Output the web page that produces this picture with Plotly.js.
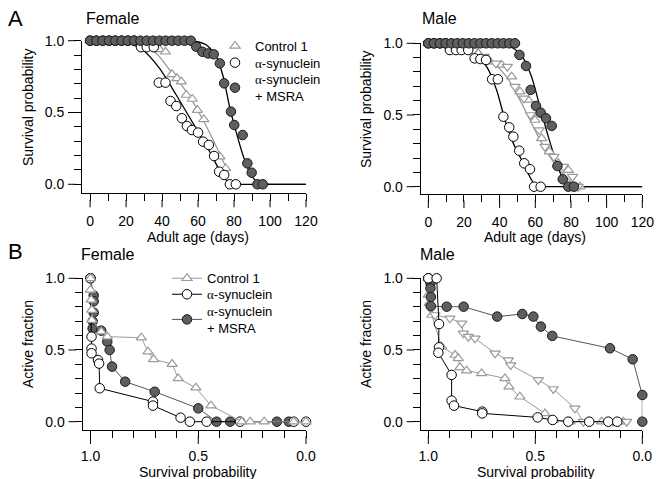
<!DOCTYPE html>
<html>
<head>
<meta charset="utf-8">
<script src="https://cdn.plot.ly/plotly-3.0.1.min.js"></script>
<style>html,body{margin:0;padding:0;background:#fff;}#chart{width:656px;height:479px;}</style>
</head>
<body>
<div id="chart"></div>
<script>
// ---------- Data: A, Female (survival vs adult age, days) ----------
const afCtrlDays = [0,3.5,7,10.5,14,17.5,21,24.5,28,31.5,35,38.6,41.9,45.5,48.3,50.7,53.5,56.8,59.6,63.2,72.1,75.3];
const afCtrlSurv = [1,1,1,1,1,1,1,1,1,1,1,0.94,0.923,0.766,0.738,0.715,0.622,0.594,0.517,0.452,0.193,0.111];
const afSynDays = [0,3.5,7,10.5,14,17.5,21,24.5,28.3,31.5,35.4,38.2,41.9,44.7,47.9,51,53.8,56.6,60,62.8,66,68.9,71.7,74.5,77.7,81];
const afSynSurv = [1,1,1,1,1,1,1,1,0.955,0.955,0.955,0.708,0.708,0.58,0.545,0.46,0.406,0.378,0.36,0.297,0.274,0.197,0.088,0.065,0,0];
const afMsraDays = [0,3.5,7,10.5,14,17.5,21,24.5,28,31.5,35,38.5,42,45.5,49,52.5,56,59,62.4,65.6,68.7,72.1,74.5,78.3,80.1,84.8,87.4,89.8,93,96];
const afMsraSurv = [1,1,1,1,1,1,1,1,1,1,1,1,1,1,1,1,1,0.958,0.923,0.911,0.905,0.842,0.703,0.506,0.413,0.343,0.146,0.081,0,0];
const afCtrlFitX = [0,15,20,25.5,36.7,44.2,53.5,62.8,70.2,75.8];
const afCtrlFitY = [1,1,0.995,0.981,0.912,0.796,0.645,0.448,0.262,0.111];
const afSynFitX = [0,10,14,20,29.3,38.6,47.9,57.2,66.5,74,78.6,84,120];
const afSynFitY = [1,1,0.996,0.986,0.935,0.807,0.622,0.425,0.227,0.053,0.003,0,0];
const afMsraFitX = [0,45,52,57.2,64.7,70.2,74,77.7,81.4,85.2,88.9,92.6,96.3,105,120];
const afMsraFitY = [1,1,1,0.998,0.97,0.889,0.749,0.529,0.355,0.193,0.077,0.019,0.002,0,0];

// ---------- Data: A, Male ----------
const amCtrlUpDays = [0,3.2,6.5,9.7,13,16.2,19.4,22.7,28,34.6,41.1,46.7,51.4,56.1,59.8,63.6,67.9,72.9,78.5,85];
const amCtrlUpSurv = [1,1,1,1,1,1,1,1,0.93,0.872,0.849,0.767,0.663,0.605,0.465,0.337,0.244,0.163,0.116,0];
const amCtrlDnDays = [0,3.2,6.5,9.7,13,16.2,19.4,22.7,25.2,31.4,37.9,44.3,48.6,53.6,57.4,62.2,65.4,70.5,75.7,80.9,84];
const amCtrlDnSurv = [1,1,1,1,1,1,1,1,0.95,0.907,0.86,0.837,0.698,0.616,0.5,0.395,0.279,0.209,0.14,0.07,0];
const amSynDays = [0,3.2,6.5,9.7,12.1,15.5,18.7,22.4,26,29.2,32.4,35.8,39,42.1,45.4,47.7,51,53.8,57,59.3,63];
const amSynSurv = [1,1,1,1,0.953,0.953,0.953,0.953,0.895,0.89,0.884,0.749,0.749,0.488,0.414,0.349,0.251,0.163,0.122,0,0];
const amMsraDays = [0,3.2,6.5,9.7,13,16.2,19.4,22.7,25.9,29.2,32.4,35.6,38.9,42.1,45.4,48.6,51.1,54.8,57.4,60.4,63,66,69.2,72.4,75.4,78.5,81.7];
const amMsraSurv = [1,1,1,1,1,1,1,1,1,1,1,1,1,1,1,1,0.919,0.842,0.675,0.563,0.516,0.477,0.424,0.144,0.052,0,0];
const amCtrlFitX = [0,15,20,25.2,34.6,43.9,53.3,62.6,72,81.3,85];
const amCtrlFitY = [1,1,0.99,0.953,0.884,0.767,0.558,0.326,0.14,0.023,0];
const amSynFitX = [0,6,10,15.9,25.2,32.7,38.3,43,47.7,53.3,57.9,60.7,66,120];
const amSynFitY = [1,1,0.995,0.977,0.93,0.837,0.674,0.465,0.302,0.163,0.047,0.002,0,0];
const amMsraFitX = [0,30,35,40.2,47.7,53.3,57.9,62.6,67.3,72,75.7,79.4,85,120];
const amMsraFitY = [1,1,1,0.995,0.965,0.895,0.767,0.558,0.349,0.163,0.047,0.002,0,0];

// ---------- Data: B, Female (active fraction vs survival probability) ----------
const bfCtrlX = [1,1,0.997,0.994,0.994,0.95,0.922,0.764,0.733,0.707,0.621,0.593,0.511,0.441,0.298,0.259,0.194,0.057,0];
const bfCtrlY = [1,0.919,0.849,0.779,0.709,0.628,0.593,0.586,0.488,0.435,0.402,0.302,0.237,0.112,0,0,0,0,0];
const bfSynX = [1,0.995,0.995,0.995,0.965,0.96,0.957,0.71,0.71,0.582,0.539,0.461,0.306,0.057,0];
const bfSynY = [1,0.593,0.51,0.477,0.43,0.405,0.233,0.14,0.112,0.028,0,0,0,0,0];
const bfMsraX = [1,0.985,0.985,0.985,0.99,0.99,0.95,0.922,0.911,0.9,0.839,0.702,0.5,0.415,0.352,0.135,0.08];
const bfMsraY = [1,0.88,0.84,0.76,0.7,0.65,0.635,0.558,0.5,0.384,0.279,0.209,0.093,0,0,0,0];

// ---------- Data: B, Male ----------
const bmCtrlUpX = [1,1,0.995,0.984,0.938,0.875,0.86,0.852,0.821,0.751,0.642,0.623,0.572,0.455,0.416,0.338,0.19,0.089];
const bmCtrlUpY = [1,0.884,0.826,0.744,0.523,0.465,0.442,0.379,0.356,0.337,0.302,0.244,0.174,0.058,0.012,0,0,0];
const bmCtrlDnX = [1,0.995,0.969,0.899,0.844,0.836,0.813,0.782,0.688,0.626,0.615,0.486,0.416,0.315,0.276,0.136,0.073];
const bmCtrlDnY = [1,0.802,0.744,0.721,0.686,0.616,0.593,0.581,0.477,0.43,0.395,0.291,0.228,0.093,0,0,0];
const bmSynX = [1,0.961,0.95,0.95,0.953,0.891,0.891,0.88,0.748,0.748,0.489,0.419,0.346,0.248,0.159,0.117];
const bmSynY = [1,1,0.681,0.519,0.481,0.326,0.147,0.112,0.07,0.058,0.03,0.012,0,0,0,0];
const bmMsraX = [1,0.99,0.99,0.988,0.988,0.914,0.835,0.678,0.561,0.509,0.474,0.421,0.151,0.045,0,0];
const bmMsraY = [1,0.965,0.93,0.87,0.806,0.802,0.802,0.733,0.751,0.733,0.663,0.598,0.512,0.435,0.186,0];

// ---------- Tick values ----------
const ageMajor = [0,20,40,60,80,100,120];
const ageMinor = [10,30,50,70,90,110];
const fracMajor = [0,0.5,1];
const fracMinor = [0.1,0.2,0.3,0.4,0.6,0.7,0.8,0.9];

// ---------- Labels ----------
const nameCtrl = 'Control 1';
const alpha = '<span style="font-family:\'Liberation Serif\',serif">α</span>';
const nameSyn = alpha + '-synuclein';
const nameMsra = alpha + '-synuclein<br>+ MSRA';

// ---------- Styles ----------
const W = 656, H = 479;
const FONT = "'Liberation Sans', Arial, sans-serif";
const GRAY = '#9a9a9a', DARK = '#5f5f5f';
const px = v => v / W, py = v => 1 - v / H;
const mTri = sym => ({symbol: sym, size: 9, color: 'white', line: {color: GRAY, width: 1.2}});
const mOpen = {symbol: 'circle', size: 9.5, color: 'white', line: {color: '#000', width: 1}};
const mDark = {symbol: 'circle', size: 9.5, color: DARK, line: {color: '#1a1a1a', width: 1}};

function fit(x, y, xa, ya, color) {
  return {x, y, xaxis: xa, yaxis: ya, type: 'scatter', mode: 'lines', showlegend: false,
    line: {color, width: 1.3, shape: 'spline', smoothing: 0.7}, hoverinfo: 'skip'};
}
function pts(x, y, xa, ya, marker, opts) {
  return Object.assign({x, y, xaxis: xa, yaxis: ya, type: 'scatter', mode: 'markers', marker,
    cliponaxis: false, showlegend: false}, opts || {});
}
function conn(x, y, xa, ya, marker, lineColor, opts) {
  return Object.assign({x, y, xaxis: xa, yaxis: ya, type: 'scatter', mode: 'lines+markers', marker,
    line: {color: lineColor, width: 1}, cliponaxis: false, showlegend: false}, opts || {});
}

const data = [
  // A female
  fit(afCtrlFitX, afCtrlFitY, 'x', 'y', GRAY),
  fit(afSynFitX, afSynFitY, 'x', 'y', '#000'),
  fit(afMsraFitX, afMsraFitY, 'x', 'y', '#000'),
  pts(afCtrlDays, afCtrlSurv, 'x', 'y', mTri('triangle-up'), {name: nameCtrl, showlegend: true, legend: 'legend'}),
  pts(afSynDays, afSynSurv, 'x', 'y', mOpen, {name: nameSyn, showlegend: true, legend: 'legend3'}),
  pts(afMsraDays, afMsraSurv, 'x', 'y', mDark, {name: nameMsra, showlegend: true, legend: 'legend4'}),
  // A male
  fit(amCtrlFitX, amCtrlFitY, 'x2', 'y2', GRAY),
  fit(amSynFitX, amSynFitY, 'x2', 'y2', '#000'),
  fit(amMsraFitX, amMsraFitY, 'x2', 'y2', '#000'),
  pts(amCtrlUpDays, amCtrlUpSurv, 'x2', 'y2', mTri('triangle-up')),
  pts(amCtrlDnDays, amCtrlDnSurv, 'x2', 'y2', mTri('triangle-down')),
  pts(amSynDays, amSynSurv, 'x2', 'y2', mOpen),
  pts(amMsraDays, amMsraSurv, 'x2', 'y2', mDark),
  // B female
  conn(bfMsraX, bfMsraY, 'x3', 'y3', mDark, '#555', {name: nameMsra, showlegend: true, legend: 'legend6'}),
  conn(bfSynX, bfSynY, 'x3', 'y3', mOpen, '#000', {name: nameSyn, showlegend: true, legend: 'legend5'}),
  conn(bfCtrlX, bfCtrlY, 'x3', 'y3', mTri('triangle-up'), GRAY, {name: nameCtrl, showlegend: true, legend: 'legend2'}),
  // B male
  conn(bmCtrlUpX, bmCtrlUpY, 'x4', 'y4', mTri('triangle-up'), GRAY),
  conn(bmCtrlDnX, bmCtrlDnY, 'x4', 'y4', mTri('triangle-down'), GRAY),
  conn(bmMsraX, bmMsraY, 'x4', 'y4', mDark, '#555'),
  conn(bmSynX, bmSynY, 'x4', 'y4', mOpen, '#000')
];

// Axis ticks: every tick (major + minor) drawn natively at minor length; labels only on majors.
const MINOR = 7, MAJOR = 14;
const fmt1 = v => v.toFixed(1);
function tickSet(major, minor, fmt) {
  const vals = major.concat(minor).sort((a, b) => a - b);
  const text = vals.map(v => major.indexOf(v) >= 0 ? fmt(v) : '');
  return {vals, text};
}
const tickfont = {family: FONT, size: 14, color: '#000'};
function axis(domain, range, ticks, extra) {
  return Object.assign({
    domain, range, autorange: false, tickmode: 'array', tickvals: ticks.vals, ticktext: ticks.text,
    showline: true, linecolor: '#000', linewidth: 1,
    ticks: 'outside', ticklen: MINOR, tickwidth: 1, tickcolor: '#000', showgrid: false, zeroline: false,
    tickfont, fixedrange: true, ticklabelstandoff: MAJOR - MINOR
  }, extra || {});
}

// panel geometry (pixels): left axis line x, right end, top (value 1.0), bottom axis line y
const geo = {
  a1: {l: 82, r: 306, t: 40.7, b: 193.3, xr: [-4.5, 120], yr: [-0.0627, 1]},
  a2: {l: 420.7, r: 642.3, t: 43.3, b: 194, xr: [-4.26, 120], yr: [-0.051, 1]},
  b1: {l: 82.5, r: 306, t: 278.3, b: 430, xr: [1.037, 0], yr: [-0.058, 1]},
  b2: {l: 420.7, r: 642.3, t: 278.3, b: 430, xr: [1.0355, 0], yr: [-0.058, 1]}
};
const dx = g => [px(g.l), px(g.r)];
const dy = g => [py(g.b), py(g.t)];

// extension of the major ticks from MINOR to MAJOR length (tick decorations, not data)
function majorExt(g, xMaj, yMaj) {
  const out = [];
  const xPos = v => g.l + (v - g.xr[0]) / (g.xr[1] - g.xr[0]) * (g.r - g.l);
  const yPos = v => g.b - (v - g.yr[0]) / (g.yr[1] - g.yr[0]) * (g.b - g.t);
  xMaj.forEach(v => out.push({type: 'line', xref: 'paper', yref: 'paper',
    x0: px(xPos(v)), x1: px(xPos(v)), y0: py(g.b + MINOR - 0.5), y1: py(g.b + MAJOR),
    line: {color: '#000', width: 1}}));
  yMaj.forEach(v => out.push({type: 'line', xref: 'paper', yref: 'paper',
    y0: py(yPos(v)), y1: py(yPos(v)), x0: px(g.l - MINOR + 0.5), x1: px(g.l - MAJOR),
    line: {color: '#000', width: 1}}));
  return out;
}

const ageTicks = tickSet(ageMajor, ageMinor, v => String(v));
const fracTicks = tickSet(fracMajor, fracMinor, fmt1);

function legendAt(xPx, topPx) {
  return {x: px(xPx), y: py(topPx), xanchor: 'left', yanchor: 'top', bgcolor: 'rgba(0,0,0,0)',
    font: {family: FONT, size: 13, color: '#000'}};
}

const layout = {
  width: W, height: H, margin: {l: 0, r: 0, t: 0, b: 0},
  paper_bgcolor: '#fff', plot_bgcolor: '#fff', font: {family: FONT, size: 14, color: '#000'},
  xaxis: axis(dx(geo.a1), geo.a1.xr, ageTicks, {anchor: 'y', ticklabelstandoff: MAJOR - MINOR + 1}),
  yaxis: axis(dy(geo.a1), geo.a1.yr, fracTicks, {anchor: 'x'}),
  xaxis2: axis(dx(geo.a2), geo.a2.xr, ageTicks, {anchor: 'y2', ticklabelstandoff: MAJOR - MINOR + 1}),
  yaxis2: axis(dy(geo.a2), geo.a2.yr, fracTicks, {anchor: 'x2'}),
  xaxis3: axis(dx(geo.b1), geo.b1.xr, fracTicks, {anchor: 'y3', ticklabelstandoff: MAJOR - MINOR - 1}),
  yaxis3: axis(dy(geo.b1), geo.b1.yr, fracTicks, {anchor: 'x3'}),
  xaxis4: axis(dx(geo.b2), geo.b2.xr, fracTicks, {anchor: 'y4', ticklabelstandoff: MAJOR - MINOR - 1}),
  yaxis4: axis(dy(geo.b2), geo.b2.yr, fracTicks, {anchor: 'x4'}),
  shapes: [].concat(
    majorExt(geo.a1, ageMajor, fracMajor),
    majorExt(geo.a2, ageMajor, fracMajor),
    majorExt(geo.b1, fracMajor, fracMajor),
    majorExt(geo.b2, fracMajor, fracMajor)
  ),
  legend: legendAt(215, 31),
  legend3: legendAt(215, 47.7),
  legend4: legendAt(215, 64.3),
  legend2: legendAt(167, 263.3),
  legend5: legendAt(167, 279.3),
  legend6: legendAt(167, 296),
  showlegend: true,
  annotations: [
    {text: 'A', x: px(15), y: py(18), font: {size: 22}},
    {text: 'B', x: px(15), y: py(251), font: {size: 22}},
    {text: 'Female', x: px(84), y: py(18), xanchor: 'left', font: {size: 16}},
    {text: 'Male', x: px(420), y: py(18), xanchor: 'left', font: {size: 16}},
    {text: 'Female', x: px(79), y: py(255), xanchor: 'left', font: {size: 16}},
    {text: 'Male', x: px(418), y: py(255), xanchor: 'left', font: {size: 16}},
    {text: 'Survival probability', x: px(28), y: py(107), textangle: -90},
    {text: 'Survival probability', x: px(366), y: py(109), textangle: -90},
    {text: 'Active fraction', x: px(28), y: py(344), textangle: -90},
    {text: 'Active fraction', x: px(366), y: py(344), textangle: -90},
    {text: 'Adult age (days)', x: px(197.5), y: py(236.5)},
    {text: 'Adult age (days)', x: px(535), y: py(236.5)},
    {text: 'Survival probability', x: px(198.3), y: py(472.3)},
    {text: 'Survival probability', x: px(535.5), y: py(472.3)}
  ].map(a => Object.assign({xref: 'paper', yref: 'paper', showarrow: false, xanchor: 'center', yanchor: 'middle'},
    a, {font: Object.assign({family: FONT, size: 14, color: '#000'}, a.font || {})}))
};

Plotly.newPlot('chart', data, layout, {staticPlot: true, displayModeBar: false});
</script>
</body>
</html>
